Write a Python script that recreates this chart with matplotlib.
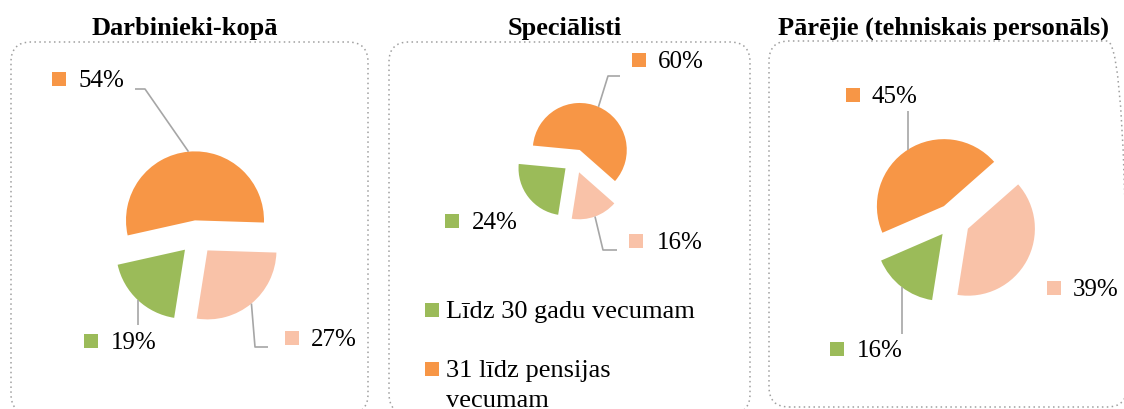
import matplotlib
matplotlib.use("Agg")
import matplotlib.pyplot as plt
from matplotlib.patches import FancyBboxPatch, Rectangle
import numpy as np

# ---------------- data ----------------
categories = ["Līdz 30 gadu vecumam", "31 līdz pensijas vecumam", "Pensijas vecumā"]
titles = ["Darbinieki-kopā", "Speciālisti", "Pārējie (tehniskais personāls)"]
darbinieki = [19, 54, 27]
specialisti = [24, 60, 16]
parejie = [16, 45, 39]
colors = ["#9BBB59", "#F79646", "#F9C2A8"]

# ---------------- layout ----------------
W, H = 1124, 409
FONT = ["Liberation Serif", "DejaVu Serif"]
LINE_C = "#A6A6A6"
BOX_C = "#9F9F9F"


def Y(y):
    return H - y


panels = [
    dict(values=darbinieki, title=titles[0], title_x=185,
         center=(196.6, 237.3), r=69, expl=17, box=(11, 42, 368, 414),
         labels=[(84, 341, 111, [(None, 325)]),
                 (52, 79, 79, [(145, 89), (135, 89)]),
                 (285, 338, 311, [(255, 347), (268, 347)])]),
    dict(values=specialisti, title=titles[1], title_x=565,
         center=(575, 161), r=47, expl=12, box=(389, 42, 750, 414),
         labels=[(445, 221, 472, None),
                 (632, 60, 658, [(608, 76), (620, 76)]),
                 (629, 241, 657, [(603, 250), (617, 250)])]),
    dict(values=parejie, title=titles[2], title_x=943,
         center=(953, 220.5), r=67, expl=17, box=(769, 41, 1127, 407),
         labels=[(830, 349, 857, [(None, 334)]),
                 (846, 95, 872, [(None, 111)]),
                 (1047, 288, 1073, None)]),
]

fig = plt.figure(figsize=(W / 100, H / 100), dpi=100)
ax = fig.add_axes([0, 0, 1, 1])

SQ = 14
for p in panels:
    x0, y0, x1, y1 = p["box"]
    box = FancyBboxPatch((x0, Y(y1)), x1 - x0, y1 - y0,
                         boxstyle="round,pad=0,rounding_size=20",
                         facecolor="none", edgecolor=BOX_C, linewidth=1.1,
                         linestyle=(0, (1, 2.2)), zorder=1)
    ax.add_patch(box)

    ax.text(p["title_x"], Y(35), p["title"], ha="center", va="baseline",
            fontsize=19, fontweight="bold", family=FONT, color="black")

    cx, cy = p["center"]
    wedges, _ = ax.pie(p["values"], colors=colors, startangle=261,
                       counterclock=False, explode=[p["expl"]] * 3,
                       radius=p["r"], center=(cx, Y(cy)),
                       wedgeprops=dict(linewidth=0), frame=False)

    for w, v, col, (sqx, lcy, tx, leader) in zip(wedges, p["values"], colors,
                                                  p["labels"]):
        ax.add_patch(Rectangle((sqx, Y(lcy) - SQ / 2), SQ, SQ,
                               facecolor=col, edgecolor="none", zorder=3))
        ax.text(tx, Y(lcy + 8), f"{v}%", ha="left", va="baseline",
                fontsize=18, family=FONT, color="black", zorder=3)
        if leader:
            th = np.deg2rad((w.theta1 + w.theta2) / 2)
            ax_pt = (w.center[0] + w.r * np.cos(th),
                     w.center[1] + w.r * np.sin(th))
            xs = [ax_pt[0]]
            ys = [ax_pt[1]]
            for lx, ly in leader:
                xs.append(ax_pt[0] if lx is None else lx)
                ys.append(Y(ly))
            ax.plot(xs, ys, color=LINE_C, linewidth=1.2, zorder=2,
                    solid_capstyle="butt")

# legend (inside the middle panel, overflowing like the original)
leg_rows = [(310, 318), (369, 377)]
for (sq_c, base), cat, col in zip(leg_rows, categories[:2], colors[:2]):
    ax.add_patch(Rectangle((425, Y(sq_c) - SQ / 2), SQ, SQ,
                           facecolor=col, edgecolor="none", zorder=3))
    lines = [cat] if len(cat) <= 20 else [cat[:16], cat[17:]]
    for i, line in enumerate(lines):
        ax.text(446, Y(base + 30 * i), line, ha="left", va="baseline",
                fontsize=19, family=FONT, color="black", zorder=3)

ax.set_xlim(0, W)
ax.set_ylim(0, H)
ax.set_aspect("auto")
ax.axis("off")

fig.savefig("out.png", dpi=100)
